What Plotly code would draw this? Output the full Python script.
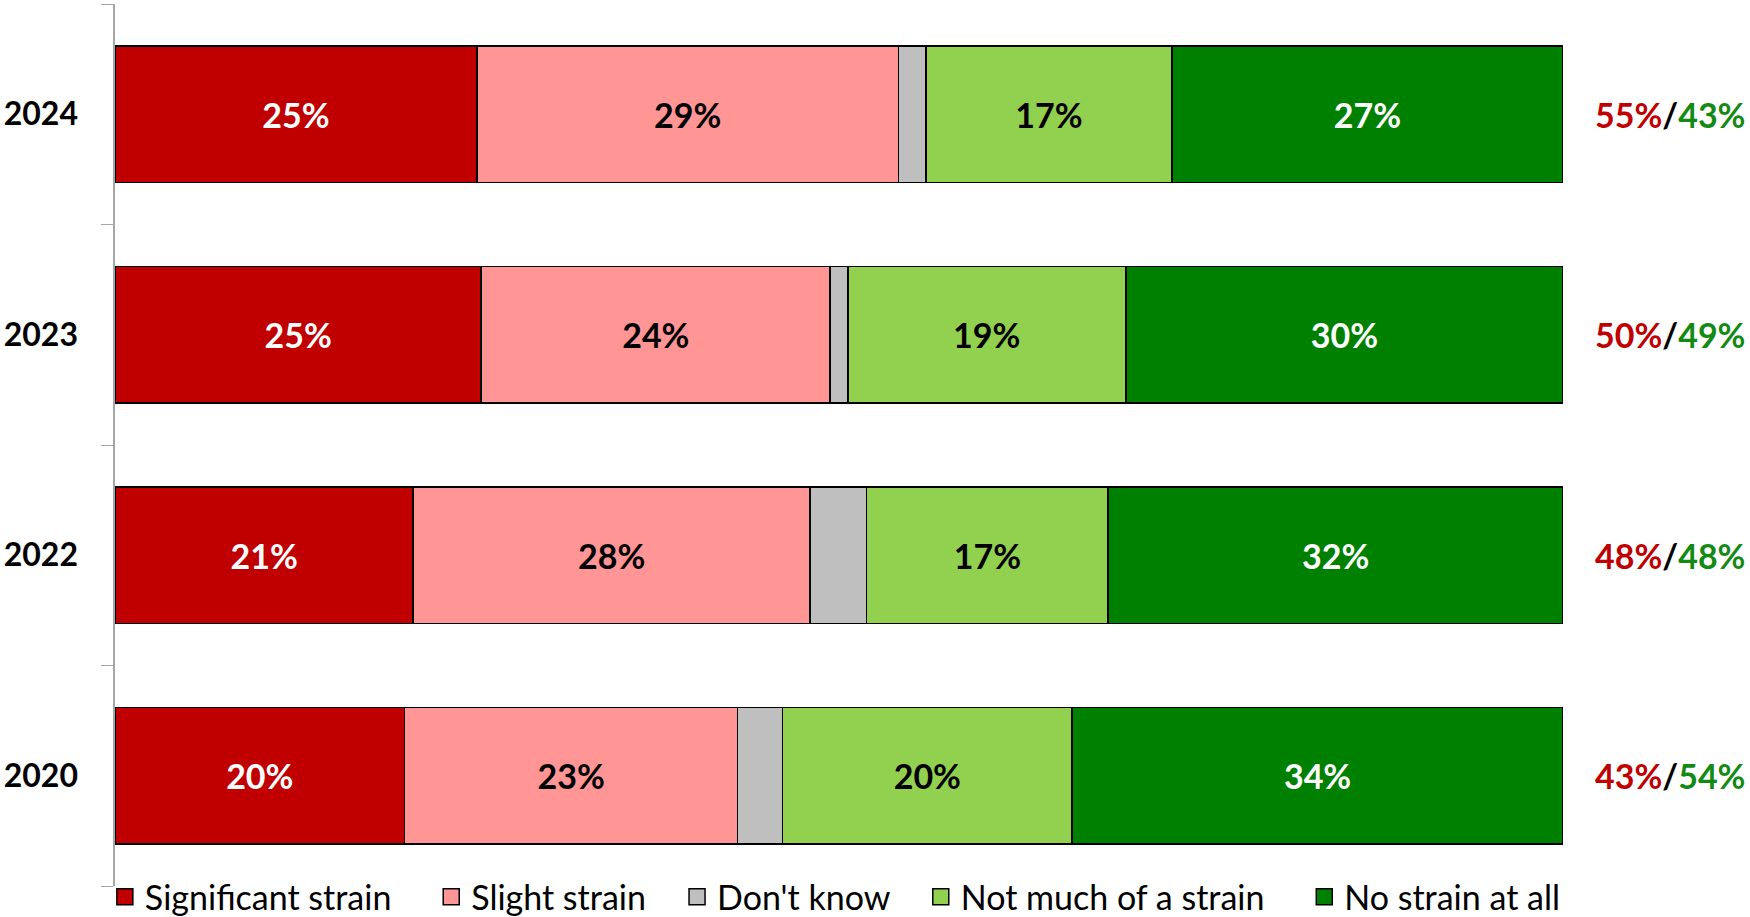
import plotly.graph_objects as go

years = ["2024", "2023", "2022", "2020"]
series_names = ["Significant strain", "Slight strain", "Don't know", "Not much of a strain", "No strain at all"]

significant = [25.0, 25.3, 20.6, 20.0]
slight = [29.1, 24.1, 27.4, 23.0]
dont_know = [1.9, 1.2, 3.9, 3.1]
not_much = [17.0, 19.2, 16.7, 20.0]
no_strain = [27.0, 30.2, 31.4, 33.9]

significant_labels = ["25%", "25%", "21%", "20%"]
slight_labels = ["29%", "24%", "28%", "23%"]
dont_know_labels = ["", "", "", ""]
not_much_labels = ["17%", "19%", "17%", "20%"]
no_strain_labels = ["27%", "30%", "32%", "34%"]

strain_totals = ["55%", "50%", "48%", "43%"]
no_strain_totals = ["43%", "49%", "48%", "54%"]

colors = ["#C00000", "#FF9595", "#BFBFBF", "#92D050", "#008000"]
text_colors = ["white", "black", "black", "black", "white"]
legend_pad = [4, 3, 3, 4, 0]  # trailing spacing after each legend entry

FONT = "Lato"
n = len(years)
cat_order = years[::-1]  # bottom -> top

fig = go.Figure()
for name, vals, labels, col, tcol in zip(
    series_names,
    [significant, slight, dont_know, not_much, no_strain],
    [significant_labels, slight_labels, dont_know_labels, not_much_labels, no_strain_labels],
    colors, text_colors,
):
    fig.add_trace(go.Bar(
        y=years, x=vals, name=name, orientation="h", showlegend=False,
        marker=dict(color=col, line=dict(color="black", width=1.7)),
        text=labels, texttemplate="<b>%{text}</b>",
        textposition="inside", insidetextanchor="middle",
        textfont=dict(family=FONT, size=34, color=tcol),
        constraintext="none", hoverinfo="skip",
    ))

# legend entries (square swatches like the original)
for name, col, pad in zip(series_names, colors, legend_pad):
    fig.add_trace(go.Scatter(
        x=[None], y=[None], mode="markers", name=name + "\u00a0" * pad,
        marker=dict(symbol="square", size=19, color=col, line=dict(color="black", width=1.5)),
        hoverinfo="skip",
    ))

# helper axis for boundary ticks (empty trace)
fig.add_trace(go.Scatter(x=[], y=[], yaxis="y2", showlegend=False, hoverinfo="skip"))

for yr, a, b in zip(years, strain_totals, no_strain_totals):
    fig.add_annotation(
        x=1.021, xref="paper", y=cat_order.index(yr), yref="y",
        xanchor="left", showarrow=False,
        text=f"<b><span style='color:#C00000'>{a}</span>/<span style='color:#138A13'>{b}</span></b>",
        font=dict(family=FONT, size=34, color="black"),
    )

fig.update_layout(
    width=1750, height=917,
    margin=dict(l=115, r=187, t=4, b=31, autoexpand=False),
    barmode="stack", bargap=0.38,
    plot_bgcolor="white", paper_bgcolor="white",
    font=dict(family=FONT, color="black"),
    showlegend=True,
    legend=dict(
        orientation="h", x=-0.007, xanchor="left", y=-0.0125, yanchor="middle",
        traceorder="normal", itemsizing="trace",
        font=dict(family=FONT, size=34, color="black"),
        itemwidth=30, bgcolor="rgba(0,0,0,0)",
    ),
    xaxis=dict(range=[0, 100], visible=False),
    yaxis=dict(
        type="category", categoryorder="array", categoryarray=cat_order,
        range=[-0.5, n - 0.5],
        ticks="", showline=False, showgrid=False,
        ticklabelstandoff=36,
        tickprefix="<b>", ticksuffix="</b>",
        tickfont=dict(family=FONT, size=32, color="black"),
    ),
    yaxis2=dict(
        overlaying="y", side="left", range=[0, n],
        tickmode="array", tickvals=list(range(n + 1)),
        ticks="outside", ticklen=12, tickcolor="#A6A6A6",
        showline=True, linecolor="#A6A6A6", linewidth=1.5,
        showgrid=False, showticklabels=False, zeroline=False,
    ),
)

fig.write_html(
    "out.html",
    config={"displayModeBar": False},
    post_script="document.body.style.margin='0px';",
)
